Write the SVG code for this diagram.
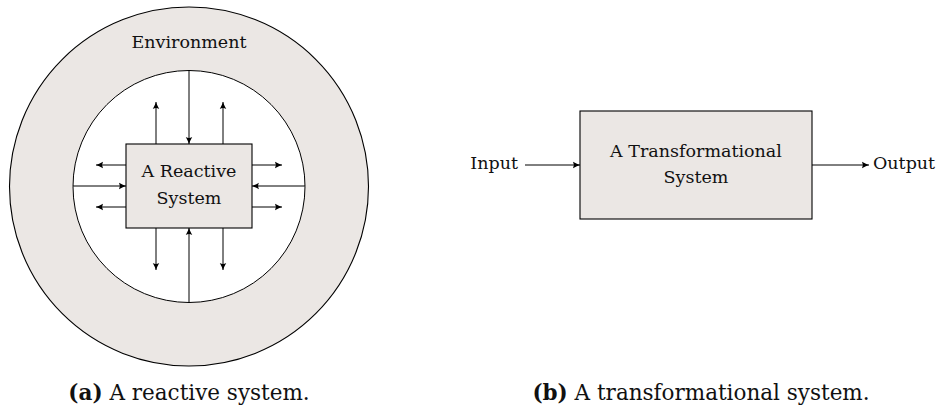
<svg xmlns="http://www.w3.org/2000/svg" width="938" height="412" viewBox="0 0 938 412">
<defs>
<marker id="ah" markerUnits="userSpaceOnUse" markerWidth="10" markerHeight="10" viewBox="-8 -5 10 10" refX="0" refY="0" orient="auto">
<path d="M-7,-3.2 Q-2.8,-0.9 0,0 Q-2.8,0.9 -7,3.2 Q-5.2,0 -7,-3.2 Z" fill="#000"/>
</marker>
</defs>
<style>
.t{font-family:"DejaVu Serif","Liberation Serif",serif;font-size:17.5px;fill:#111;text-anchor:middle}
.cap{font-size:21.5px}
.c{stroke:#000;stroke-width:1;fill:none;marker-end:url(#ah)}
.fill{fill:#ebe7e4;stroke:#000;stroke-width:1.1}
</style>
<rect width="938" height="412" fill="#fff"/>
<g id="environment">
<circle cx="189" cy="186.5" r="179.5" class="fill"/>
<circle cx="189" cy="186.5" r="116" fill="#fff" stroke="#000" stroke-width="1"/>
<text class="t" x="189" y="48">Environment</text>
</g>
<g id="reactive-system">
<rect x="126" y="144" width="126" height="84" class="fill"/>
<text class="t" x="189" y="177">A Reactive</text>
<text class="t" x="189" y="204">System</text>
</g>
<g id="transformational-system">
<rect x="580" y="111" width="232" height="108" class="fill"/>
<text class="t" x="696" y="157">A Transformational</text>
<text class="t" x="696" y="183">System</text>
</g>
<g id="input"><text class="t" x="518" y="169" style="text-anchor:end">Input</text></g>
<g id="output"><text class="t" x="873" y="169" style="text-anchor:start">Output</text></g>
<g id="connectors">
<line class="c" x1="189" y1="70.5" x2="189" y2="144"/>
<line class="c" x1="156" y1="144" x2="156" y2="102"/>
<line class="c" x1="223" y1="144" x2="223" y2="102"/>
<line class="c" x1="156" y1="228" x2="156" y2="270"/>
<line class="c" x1="223" y1="228" x2="223" y2="270"/>
<line class="c" x1="189" y1="302.5" x2="189" y2="228"/>
<line class="c" x1="126" y1="165" x2="96" y2="165"/>
<line class="c" x1="126" y1="207" x2="96" y2="207"/>
<line class="c" x1="73" y1="186" x2="126" y2="186"/>
<line class="c" x1="252" y1="165" x2="282" y2="165"/>
<line class="c" x1="252" y1="207" x2="282" y2="207"/>
<line class="c" x1="305" y1="186" x2="252" y2="186"/>
<line class="c" x1="525" y1="165" x2="580" y2="165"/>
<line class="c" x1="812" y1="165" x2="869" y2="165"/>
</g>
<g id="captions">
<text class="t cap" x="189" y="400"><tspan font-weight="bold">(a)</tspan> A reactive system.</text>
<text class="t cap" x="701" y="400"><tspan font-weight="bold">(b)</tspan> A transformational system.</text>
</g>
</svg>
